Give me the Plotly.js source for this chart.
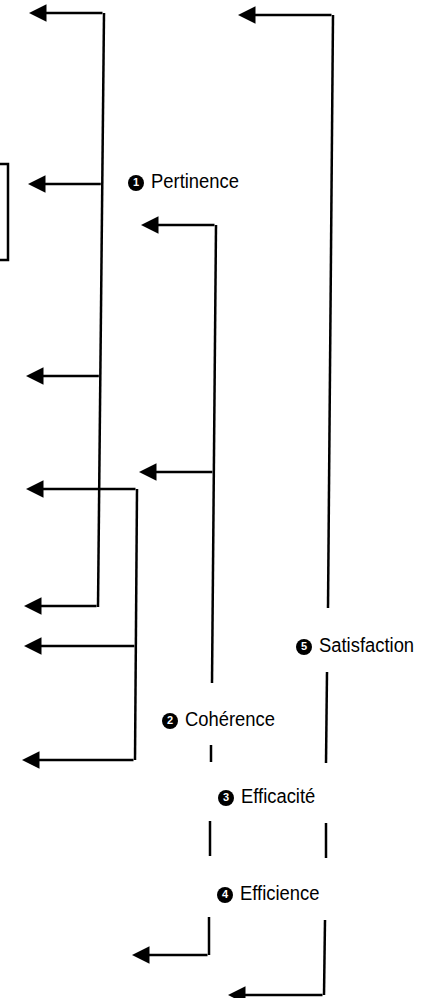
<!DOCTYPE html>
<html>
<head>
<meta charset="utf-8">
<script src="https://cdn.plot.ly/plotly-3.0.1.min.js"></script>
<style>html,body{margin:0;padding:0;background:#fff;}#chart{width:426px;height:998px;}</style>
</head>
<body>
<div id="chart"></div>
<script>
// ---- Diagram data (pixel-space coordinates) ----
const labelText = ['Pertinence', 'Cohérence', 'Efficacité', 'Efficience', 'Satisfaction'];
const labelNum = ['1', '2', '3', '4', '5'];
const bulletX = [136, 170, 226, 225, 304];
const bulletY = [183, 721, 798, 895, 647];

// Pertinence trunk and its arrows
const pertinenceTrunkX = [104, 98];
const pertinenceTrunkY = [13, 607];
const pertinenceArrowY = [13, 184, 376, 606];
const pertinenceArrowTip = [29, 28, 26, 24];

// Unlabelled bracket
const bracketTrunkX = [137, 135];
const bracketTrunkY = [489, 760];
const bracketArrowY = [489, 646, 760];
const bracketArrowTip = [26, 24, 22];

// Cohérence trunk
const coherenceTrunkX = [216, 212];
const coherenceTrunkY = [225, 683];
const coherenceArrowY = [225, 472];
const coherenceArrowTip = [141, 139];

// Satisfaction trunk
const satisfactionTrunkX = [333, 328];
const satisfactionTrunkY = [15, 608];
const satisfactionArrowY = [15];
const satisfactionArrowTip = [238];

// Broken middle line (Cohérence → Efficacité → Efficience)
const midSegX = [[211, 211], [210, 210], [209, 209]];
const midSegY = [[745, 762], [821, 856], [917, 955]];
const midArrowY = [955];
const midArrowTip = [132];

// Broken right line (Satisfaction → Efficacité → Efficience)
const rightSegX = [[327, 326], [326, 326], [325, 324]];
const rightSegY = [[672, 763], [823, 858], [920, 995]];
const rightArrowY = [995];
const rightArrowTip = [228];

// Partial box at left edge
const boxX = [0, 8, 8, 0];
const boxY = [164, 164, 260, 260];

// ---- Build traces ----
const INK = '#000';
const LW = 2.5;
const traces = [];
const annotations = [];

function lineTrace(xs, ys) {
  traces.push({x: xs, y: ys, type: 'scatter', mode: 'lines',
    line: {color: INK, width: LW}, hoverinfo: 'skip', showlegend: false});
}
function trunkXAt(tx, ty, y) {
  return tx[0] + (tx[1] - tx[0]) * (y - ty[0]) / (ty[1] - ty[0]);
}
function arrows(tailXs, ys, tips) {
  ys.forEach((y, i) => {
    annotations.push({x: tips[i], y: y, ax: tailXs[i], ay: y,
      xref: 'x', yref: 'y', axref: 'x', ayref: 'y', text: '',
      showarrow: true, arrowhead: 2, arrowsize: 1.4, arrowwidth: LW,
      arrowcolor: INK, standoff: 0, startstandoff: 0});
  });
}

lineTrace(pertinenceTrunkX, pertinenceTrunkY);
arrows(pertinenceArrowY.map(y => trunkXAt(pertinenceTrunkX, pertinenceTrunkY, y)), pertinenceArrowY, pertinenceArrowTip);

lineTrace(bracketTrunkX, bracketTrunkY);
arrows(bracketArrowY.map(y => trunkXAt(bracketTrunkX, bracketTrunkY, y)), bracketArrowY, bracketArrowTip);

lineTrace(coherenceTrunkX, coherenceTrunkY);
arrows(coherenceArrowY.map(y => trunkXAt(coherenceTrunkX, coherenceTrunkY, y)), coherenceArrowY, coherenceArrowTip);

lineTrace(satisfactionTrunkX, satisfactionTrunkY);
arrows(satisfactionArrowY.map(y => trunkXAt(satisfactionTrunkX, satisfactionTrunkY, y)), satisfactionArrowY, satisfactionArrowTip);

midSegX.forEach((xs, i) => lineTrace(xs, midSegY[i]));
arrows([midSegX[2][1]], midArrowY, midArrowTip);

rightSegX.forEach((xs, i) => lineTrace(xs, rightSegY[i]));
arrows([rightSegX[2][1]], rightArrowY, rightArrowTip);

lineTrace(boxX, boxY);

// Bullets (black discs with white numbers)
traces.push({x: bulletX, y: bulletY, type: 'scatter', mode: 'markers+text',
  marker: {color: INK, size: 16, line: {width: 0}},
  text: labelNum, textposition: 'middle center',
  textfont: {family: 'Liberation Sans, Arial, sans-serif', size: 11, color: '#fff', weight: 'bold'},
  hoverinfo: 'skip', showlegend: false});

// Labels
traces.push({x: bulletX.map(x => x + 15), y: bulletY, type: 'scatter', mode: 'text',
  text: labelText, textposition: 'middle right',
  textfont: {family: 'Liberation Sans, Arial, sans-serif', size: 20, color: INK},
  hoverinfo: 'skip', showlegend: false});

const layout = {
  width: 426, height: 998,
  margin: {l: 0, r: 0, t: 0, b: 0, pad: 0},
  paper_bgcolor: '#fff', plot_bgcolor: '#fff',
  xaxis: {range: [0, 426], visible: false, fixedrange: true},
  yaxis: {range: [998, 0], visible: false, fixedrange: true},
  annotations: annotations,
  showlegend: false
};

// Condensed look (like Arial Narrow): compress label glyphs horizontally
const CONDENSE = 0.92;
Plotly.newPlot('chart', traces, layout, {staticPlot: true, displayModeBar: false}).then(gd => {
  const traceGroups = gd.querySelectorAll('.scatterlayer .trace');
  const labelGroup = traceGroups[traceGroups.length - 1];
  labelGroup.querySelectorAll('.textpoint text').forEach(t => {
    const w = t.getComputedTextLength();
    t.setAttribute('textLength', (w * CONDENSE).toFixed(1));
    t.setAttribute('lengthAdjust', 'spacingAndGlyphs');
  });
});
</script>
</body>
</html>
